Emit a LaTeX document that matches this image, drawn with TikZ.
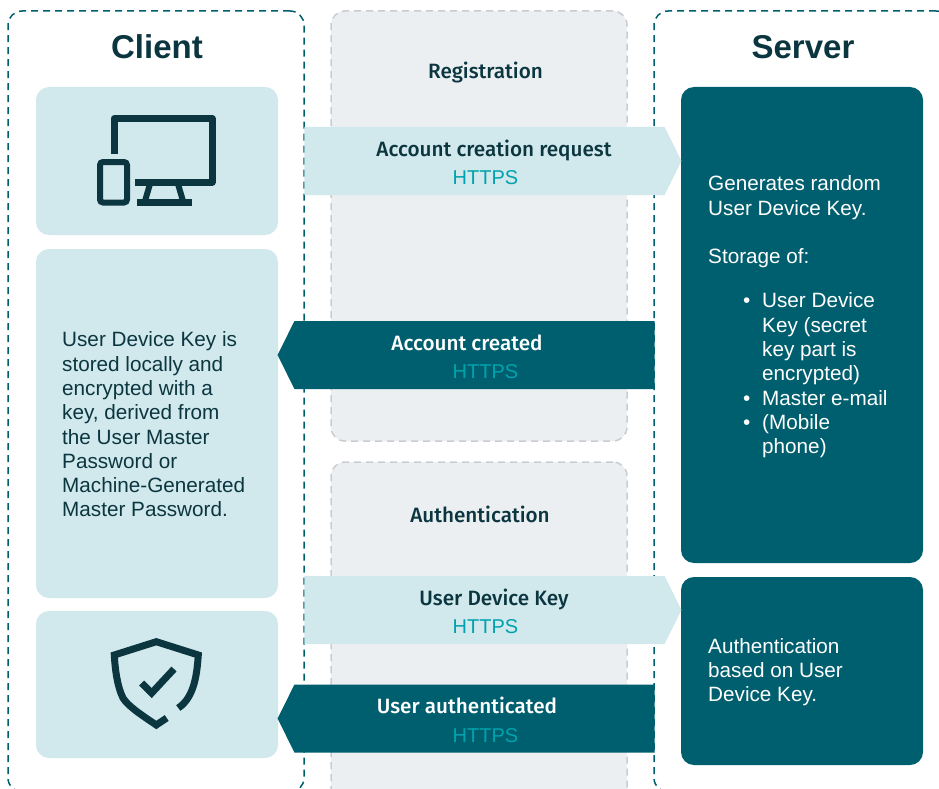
\documentclass[tikz,border=0pt]{standalone}
\usepackage{fontspec}
\setmainfont{Liberation Sans}
\newfontfamily\labelfont{Fira Sans Medium}
\usetikzlibrary{shapes.symbols}

\definecolor{tealdark}{HTML}{005F6E}
\definecolor{teallight}{HTML}{D1E8EC}
\definecolor{inkdark}{HTML}{0B3640}
\definecolor{httpscol}{HTML}{00A3AD}
\definecolor{greybox}{HTML}{ECEFF2}
\definecolor{greydash}{HTML}{C9CDD1}

\tikzset{
  x=1pt, y=-1pt,
  framebox/.style={draw=tealdark, line width=1.5pt, dash pattern=on 7pt off 5pt, rounded corners=14pt, anchor=north west, inner sep=0pt, outer sep=0pt},
  phasebox/.style={draw=greydash, fill=greybox, line width=1.5pt, dash pattern=on 7pt off 5pt, rounded corners=14pt, anchor=north west, inner sep=0pt, outer sep=0pt},
  clientbox/.style={fill=teallight, rounded corners=13pt, anchor=north west, inner sep=0pt, outer sep=0pt, minimum width=242pt},
  serverbox/.style={fill=tealdark, rounded corners=13pt, anchor=north west, inner sep=0pt, outer sep=0pt, minimum width=242pt},
  arrowbox/.style={shape=signal, signal pointer angle=127, inner sep=0pt, outer sep=0pt, minimum width=377pt, minimum height=68pt},
  sendarrow/.style={arrowbox, fill=teallight, signal to=east, signal from=nowhere},
  backarrow/.style={arrowbox, fill=tealdark, signal to=west, signal from=nowhere},
  title/.style={font=\fontsize{33}{38}\selectfont\bfseries, text=inkdark},
  phasetxt/.style={font=\fontsize{20.7}{24}\labelfont, text=inkdark},
  arrowtxt/.style={font=\fontsize{20.7}{24}\labelfont},
  httpstxt/.style={font=\fontsize{20}{24}\selectfont, text=httpscol},
  bodytxt/.style={font=\fontsize{20.7}{24.3}\selectfont, align=left, anchor=west, inner sep=0pt},
  icon/.style={draw=inkdark, line width=7pt}
}

\newcommand{\itembullet}{\makebox[19pt][l]{\textbullet}}
\newcommand{\itemgap}{\hspace*{19pt}}

\begin{document}
\begin{tikzpicture}
\clip (0,0) rectangle (939,789);

% Cadres
\node[framebox, minimum width=296pt, minimum height=781pt] (clientframe) at (8,11) {};
\node[framebox, minimum width=296pt, minimum height=781pt] (serverframe) at (654,11) {};
\node[phasebox, minimum width=296pt, minimum height=430pt] (regphase) at (331,11) {};
\node[phasebox, minimum width=296pt, minimum height=345pt] (authphase) at (331,462) {};

% Titres
\node[title] (clienttitle) at (157,46.5) {Client};
\node[title] (servertitle) at (803,47.5) {Server};
\node[phasetxt] (regtitle) at (485.5,73) {Registration};
\node[phasetxt] (authtitle) at (480,514.5) {Authentication};

% Blocs client
\node[clientbox, minimum height=148pt] (devicebox) at (36,87) {};
\node[clientbox, minimum height=349pt] (keybox) at (36,249) {};
\node[clientbox, minimum height=147pt] (shieldbox) at (36,611) {};

% Blocs serveur
\node[serverbox, minimum height=476pt] (storebox) at (681,87) {};
\node[serverbox, minimum height=188pt] (authbox) at (681,577) {};

% Flèches
\node[sendarrow] (createreq) at (484.5,161) {};
\node[backarrow] (created) at (474.5,355) {};
\node[sendarrow] (devkey) at (484.5,610) {};
\node[backarrow] (authed) at (474.5,718.5) {};

% Textes des flèches
\node[arrowtxt, text=inkdark] (createreqtxt) at (494,151) {Account creation request};
\node[httpstxt] (createreqhttps) at (485.5,178) {HTTPS};
\node[arrowtxt, text=white] (createdtxt) at (467,342.5) {Account created};
\node[httpstxt] (createdhttps) at (485.5,372) {HTTPS};
\node[arrowtxt, text=inkdark] (devkeytxt) at (494,600) {User Device Key};
\node[httpstxt] (devkeyhttps) at (485.5,627) {HTTPS};
\node[arrowtxt, text=white] (authedtxt) at (467,705) {User authenticated};
\node[httpstxt] (authedhttps) at (485.5,736) {HTTPS};

% Textes des blocs
\node[bodytxt, text=inkdark] (keytxt) at (62,424.5) {User Device Key is\\stored locally and\\encrypted with a\\key, derived from\\the User Master\\Password or\\Machine-Generated\\Master Password.};
\node[bodytxt, text=white] (gentxt) at (708,197.5) {Generates random\\User Device Key.};
\node[bodytxt, text=white] (storetxt) at (708,258) {Storage of:};
\node[bodytxt, text=white] (listtxt) at (743,375.5) {\itembullet User Device\\\itemgap Key (secret\\\itemgap key part is\\\itemgap encrypted)\\\itembullet Master e-mail\\\itembullet (Mobile\\\itemgap phone)};
\node[bodytxt, text=white] (authtxt) at (708,672) {Authentication\\based on User\\Device Key.};

% Icône écran et téléphone
\draw[icon, line join=round] (114,154) -- (114,118.5) -- (212,118.5) -- (212,182) -- (135,182);
\draw[icon] (137,202.5) -- (192,202.5);
\draw[icon, line width=6pt] (150,184) -- (145,201) (178,184) -- (183,201);
\draw[icon, line width=6pt, rounded corners=3pt] (100,162) rectangle (127,202.5);

% Icône bouclier
\draw[icon, line join=miter] (166.7,718) -- (156.3,725) .. controls (140,714) and (128,706) .. (123,698) .. controls (117,686) and (115,668) .. (114.3,655) -- (156.3,641.7) -- (198.3,655) .. controls (197,672) and (195,697) .. (178.3,708);
\draw[icon] (141.7,683) -- (151.7,693) -- (174,669);

\end{tikzpicture}
\end{document}
